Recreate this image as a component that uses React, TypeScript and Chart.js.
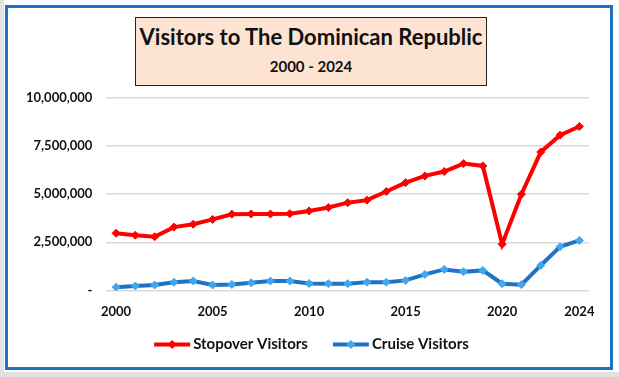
import React, { useEffect, useRef } from "react";
import { Chart, registerables } from "chart.js";

Chart.register(...registerables);

const years = [
  "2000", "2001", "2002", "2003", "2004", "2005", "2006", "2007", "2008", "2009",
  "2010", "2011", "2012", "2013", "2014", "2015", "2016", "2017", "2018", "2019",
  "2020", "2021", "2022", "2023", "2024",
];
const shownYears = ["2000", "2005", "2010", "2015", "2020", "2024"];

const stopoverVisitors = [
  2970000, 2870000, 2790000, 3290000, 3440000, 3690000, 3960000, 3970000, 3970000, 3990000,
  4130000, 4310000, 4560000, 4690000, 5140000, 5600000, 5950000, 6180000, 6590000, 6470000,
  2400000, 5000000, 7190000, 8070000, 8520000,
];
const cruiseVisitors = [
  170000, 230000, 280000, 420000, 490000, 280000, 310000, 400000, 490000, 490000,
  360000, 350000, 350000, 430000, 430000, 520000, 830000, 1090000, 970000, 1040000,
  350000, 300000, 1300000, 2270000, 2600000,
];
const yTicks = [0, 2500000, 5000000, 7500000, 10000000];

const FONT = "Lato, 'Open Sans', sans-serif";

const legendPlugin = {
  id: "customLegend",
  afterDraw(chart: any) {
    const ctx = chart.ctx;
    const datasets = chart.data.datasets;
    const sample = 36;
    const textGap = 3;
    const itemGap = 25;
    const y = chart.chartArea.bottom + 54;
    ctx.save();
    ctx.font = `bold 15px ${FONT}`;
    const widths = datasets.map((ds: any) => sample + textGap + ctx.measureText(ds.label).width);
    const total = widths.reduce((a: number, b: number) => a + b, 0) + itemGap * (datasets.length - 1);
    let x = chart.width / 2 + 2 - total / 2;
    datasets.forEach((ds: any, i: number) => {
      ctx.strokeStyle = ds.borderColor;
      ctx.lineWidth = 4;
      ctx.beginPath();
      ctx.moveTo(x, y);
      ctx.lineTo(x + sample, y);
      ctx.stroke();
      const cx = x + sample / 2;
      const r = 4.5;
      ctx.fillStyle = ds.pointBackgroundColor;
      ctx.beginPath();
      ctx.moveTo(cx, y - r);
      ctx.lineTo(cx + r, y);
      ctx.lineTo(cx, y + r);
      ctx.lineTo(cx - r, y);
      ctx.closePath();
      ctx.fill();
      ctx.fillStyle = "#111";
      ctx.textAlign = "left";
      ctx.textBaseline = "middle";
      ctx.fillText(ds.label, x + sample + textGap, y);
      x += widths[i] + itemGap;
    });
    ctx.restore();
  },
};

export default function App() {
  const ref = useRef<HTMLCanvasElement | null>(null);

  useEffect(() => {
    if (!ref.current) return;
    const chart = new Chart(ref.current, {
      type: "line",
      data: {
        labels: years,
        datasets: [
          {
            label: "Stopover Visitors",
            data: stopoverVisitors,
            borderColor: "#ff0000",
            backgroundColor: "#ff0000",
            borderWidth: 4,
            pointStyle: "rectRot",
            pointRadius: 4,
            pointBackgroundColor: "#ff0000",
            pointBorderColor: "#ff0000",
            pointBorderWidth: 1,
            tension: 0,
          },
          {
            label: "Cruise Visitors",
            data: cruiseVisitors,
            borderColor: "#1f72c4",
            backgroundColor: "#1f72c4",
            borderWidth: 4,
            pointStyle: "rectRot",
            pointRadius: 4,
            pointBackgroundColor: "#3ea8f0",
            pointBorderColor: "#3ea8f0",
            pointBorderWidth: 1,
            tension: 0,
          },
        ],
      },
      options: {
        animation: false,
        responsive: false,
        maintainAspectRatio: false,
        layout: { padding: { top: 98, left: 12, right: 30, bottom: 43 } },
        plugins: {
          title: { display: false },
          tooltip: { enabled: false },
          legend: { display: false },
        },
        scales: {
          x: {
            offset: true,
            grid: { display: false, drawTicks: false },
            border: { display: false },
            ticks: {
              autoSkip: false,
              maxRotation: 0,
              color: "#111",
              padding: 14,
              font: { family: FONT, size: 13, weight: "bold" },
              callback: function (this: any, v: any) {
                const l = years[v as number];
                return shownYears.includes(l) ? l : "";
              },
            },
          },
          y: {
            min: 0,
            max: 10000000,
            afterBuildTicks: (s: any) => {
              s.ticks = yTicks.map((v) => ({ value: v }));
            },
            grid: { color: "#d9d9d9", lineWidth: 1.5, drawTicks: false },
            border: { display: false },
            ticks: {
              color: "#111",
              padding: 14,
              font: { family: FONT, size: 13, weight: "bold" },
              callback: (v: any) => (v === 0 ? "-" : Number(v).toLocaleString("en-US")),
            },
          },
        },
      },
      plugins: [legendPlugin],
    });
    return () => chart.destroy();
  }, []);

  return (
    <div style={{ position: "absolute", left: 0, top: 0, width: 619, height: 377, background: "#fff" }}>
      <div style={{ position: "absolute", left: 0, top: 0, width: 4, height: 377, background: "#e2e2e2" }} />
      <div style={{ position: "absolute", left: 0, top: 372, width: 619, height: 5, background: "#e2e2e2" }} />
      <div
        style={{
          position: "absolute",
          left: 5,
          top: 5,
          width: 602,
          height: 359,
          border: "3px solid #1f72c4",
          background: "#fff",
        }}
      />
      <canvas ref={ref} width={619} height={377} style={{ position: "absolute", left: 0, top: 0 }} />
      <div
        style={{
          position: "absolute",
          left: 135,
          top: 17,
          width: 350,
          height: 67,
          border: "1.5px solid #222",
          background: "#fde4d2",
          fontFamily: FONT,
          fontWeight: "bold",
          color: "#111",
          textAlign: "center",
        }}
      >
        <div style={{ fontSize: 22, marginTop: 5, lineHeight: "28px" }}>Visitors to The Dominican Republic</div>
        <div style={{ fontSize: 15, marginTop: 6, lineHeight: "18px" }}>2000 - 2024</div>
      </div>
    </div>
  );
}
